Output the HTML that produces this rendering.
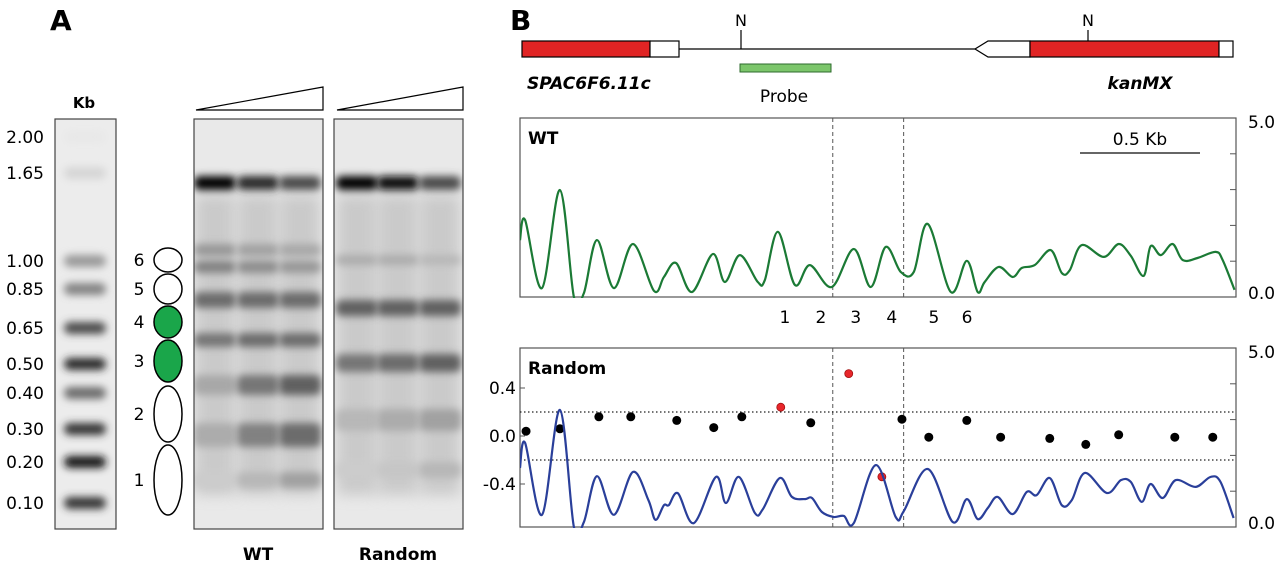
<!DOCTYPE html>
<html><head><meta charset="utf-8"><style>
html,body{margin:0;padding:0;background:#fff;}
svg{display:block;font-family:"DejaVu Sans","Liberation Sans",sans-serif;}
</style></head><body>
<svg id="fig" width="1280" height="562" viewBox="0 0 1280 562">
<defs>
<filter id="blur" x="-30%" y="-100%" width="160%" height="300%"><feGaussianBlur stdDeviation="4"/></filter>
<filter id="blur2" x="-30%" y="-20%" width="160%" height="140%"><feGaussianBlur stdDeviation="7"/></filter>
<clipPath id="clipWT"><rect x="520" y="118" width="716" height="180"/></clipPath>
<clipPath id="clipRnd"><rect x="520" y="348" width="716" height="180"/></clipPath>
<clipPath id="clipGelWT"><rect x="194" y="119" width="129" height="410"/></clipPath>
<clipPath id="clipGelRnd"><rect x="334" y="119" width="129" height="410"/></clipPath>
<clipPath id="clipLad"><rect x="55" y="119" width="61" height="410"/></clipPath>
</defs>
<!-- Panel A -->
<text x="50" y="30" font-size="28" font-weight="bold">A</text>
<text x="84" y="108" font-size="15" font-weight="bold" text-anchor="middle">Kb</text>
<g id="ladder" clip-path="url(#clipLad)"></g>
<rect x="55" y="119" width="61" height="410" fill="none" stroke="#444" stroke-width="1.2"/>
<g id="ladderLabels" font-size="17" text-anchor="end"></g>
<g id="ellipses"></g>
<g id="gels"></g>
<polygon points="196,110 323,87 323,110" fill="#fff" stroke="#000" stroke-width="1.2"/>
<polygon points="337,110 463,87 463,110" fill="#fff" stroke="#000" stroke-width="1.2"/>
<text x="258" y="560" font-size="17" font-weight="bold" text-anchor="middle">WT</text>
<text x="398" y="560" font-size="17" font-weight="bold" text-anchor="middle">Random</text>

<!-- Panel B -->
<text x="510" y="30" font-size="28" font-weight="bold">B</text>
<g>
<line x1="679" y1="49" x2="975" y2="49" stroke="#000" stroke-width="1.3"/>
<rect x="522" y="41" width="128" height="16" fill="#e02424" stroke="#000" stroke-width="1.2"/>
<rect x="650" y="41" width="29" height="16" fill="#fff" stroke="#000" stroke-width="1.2"/>
<polygon points="988,41 1030,41 1030,57 988,57 975,49" fill="#fff" stroke="#000" stroke-width="1.2"/>
<rect x="1030" y="41" width="189" height="16" fill="#e02424" stroke="#000" stroke-width="1.2"/>
<rect x="1219" y="41" width="14" height="16" fill="#fff" stroke="#000" stroke-width="1.2"/>
<line x1="741" y1="30" x2="741" y2="49" stroke="#000" stroke-width="1.2"/>
<line x1="1088" y1="30" x2="1088" y2="41" stroke="#000" stroke-width="1.2"/>
<text x="741" y="26" font-size="16" text-anchor="middle">N</text>
<text x="1088" y="26" font-size="16" text-anchor="middle">N</text>
<rect x="740" y="64" width="91" height="8" fill="#7cc66b" stroke="#2e6b2e" stroke-width="1"/>
<text x="527" y="89" font-size="17" font-weight="bold" font-style="italic">SPAC6F6.11c</text>
<text x="784" y="102" font-size="17" text-anchor="middle">Probe</text>
<text x="1140" y="89" font-size="17" font-weight="bold" font-style="italic" text-anchor="middle">kanMX</text>
</g>
<g id="wtPlot"></g>
<g id="rndPlot"></g>
</svg>
<script>
// ---------- Data ----------
const ladderSizes = ["2.00","1.65","1.00","0.85","0.65","0.50","0.40","0.30","0.20","0.10"];
const ladderY = [137,173,261,289,328,364,393,429,462,503];
const ladderIntensity = [0.0,0.08,0.35,0.45,0.7,0.85,0.55,0.8,0.95,0.8];

const wtPos = [0,21,91,165,223,264,318,388,467,554,595,645,711,797,847,909,983,1012,1066,1136,1198,1289,1380,1450,1512,1574,1628,1686,1781,1847,1892,1921,1979,2037,2074,2128,2194,2240,2273,2322,2413,2475,2525,2578,2607,2649,2698,2740,2801,2876,2905,2954];
const wtSignal = [1.59,2.15,0.25,2.99,0,0.11,1.59,0.25,1.48,0.17,0.56,0.95,0.14,1.20,0.42,1.17,0.42,0.47,1.82,0.34,0.89,0.28,1.34,0.28,1.40,0.70,0.70,2.04,0.14,1.01,0.14,0.42,0.84,0.56,0.81,0.89,1.31,0.67,0.75,1.45,1.12,1.48,1.15,0.59,1.42,1.17,1.48,1.03,1.09,1.26,1.03,0.2];

const rndPos = [0,21,91,165,223,264,318,388,467,531,560,595,615,653,719,810,851,905,971,1004,1074,1124,1178,1207,1248,1297,1339,1380,1471,1553,1587,1686,1789,1847,1892,1934,1975,2037,2095,2136,2190,2240,2281,2335,2426,2484,2525,2570,2607,2657,2711,2793,2855,2896,2950];
const rndSignal = [1.65,2.35,0.34,3.27,0,0.14,1.42,0.34,1.54,0.75,0.20,0.61,0.61,0.94,0.11,1.40,0.67,1.40,0.39,0.50,1.37,0.84,0.78,0.81,0.42,0.28,0.31,0.11,1.73,0.28,0.45,1.62,0.14,0.78,0.22,0.53,0.84,0.36,0.98,0.89,1.37,0.61,0.75,1.51,0.95,1.31,1.26,0.70,1.20,0.81,1.31,1.12,1.40,1.26,0.25];

const dotPos = [25,165,326,458,648,801,917,1078,1202,1359,1496,1579,1690,1847,1987,2190,2339,2475,2707,2864];
const dotValue = [0.04,0.06,0.16,0.16,0.13,0.07,0.16,0.24,0.11,0.52,-0.34,0.14,-0.01,0.13,-0.01,-0.02,-0.07,0.01,-0.01,-0.01];

const nucLabels = ["1","2","3","4","5","6"];
const nucLabelPos = [1095,1244,1388,1537,1711,1848];
const dashPos = [1293,1586];
const leftTicks = [0.4,0.0,-0.4];
const leftTickLabels = ["0.4","0.0","-0.4"];

// ---------- helpers ----------
const NS="http://www.w3.org/2000/svg";
function mk(tag, attrs, parent){const e=document.createElementNS(NS,tag);for(const k in attrs)e.setAttribute(k,attrs[k]);parent.appendChild(e);return e;}
function smooth(pts){
  let d=`M${pts[0][0]},${pts[0][1]}`;
  for(let i=0;i<pts.length-1;i++){
    const p0=pts[Math.max(0,i-1)],p1=pts[i],p2=pts[i+1],p3=pts[Math.min(pts.length-1,i+2)];
    const c1=[p1[0]+(p2[0]-p0[0])/6,p1[1]+(p2[1]-p0[1])/6];
    const c2=[p2[0]-(p3[0]-p1[0])/6,p2[1]-(p3[1]-p1[1])/6];
    d+=` C${c1[0].toFixed(1)},${c1[1].toFixed(1)} ${c2[0].toFixed(1)},${c2[1].toFixed(1)} ${p2[0].toFixed(1)},${p2[1].toFixed(1)}`;
  }
  return d;
}
const X0=520, X1=1236, BPMAX=2960;
const xs = bp => X0 + bp/BPMAX*(X1-X0);

// ---------- ladder ----------
const lad=document.getElementById('ladder');
const ladBox=mk('rect',{x:55,y:119,width:61,height:410,fill:'#ececec'},lad);


const ll=document.getElementById('ladderLabels');
ladderSizes.forEach((s,i)=>{
  const g=Math.round(232-ladderIntensity[i]*225);
  const b=mk('rect',{x:64,y:ladderY[i]-6,width:42,height:12,rx:6,fill:`rgb(${g},${g},${g})`,filter:'url(#blur)'},lad);
  
  
  const t=mk('text',{x:44,y:ladderY[i]+6},ll);t.textContent=s;
  
  
});

// ---------- ellipses ----------
const el=document.getElementById('ellipses');
const ellY=[480,414,361,322,289,260], ellR=[35,28,21,16,15,12], ellFill=['#fff','#fff','#1aa64a','#1aa64a','#fff','#fff'];
nucLabels.forEach((n,i)=>{
  const e=mk('ellipse',{cx:168,cy:ellY[i],rx:14,ry:ellR[i],fill:ellFill[i],stroke:'#000','stroke-width':1.5},el);
  
  
  const t=mk('text',{x:139,y:ellY[i]+6,'font-size':17,'text-anchor':'middle'},el);t.textContent=n;
  
  
});

// ---------- gels ----------
const gels=document.getElementById('gels');
function gel(x0,lanes,bands,name,clip){
  const grp=mk('g',{'clip-path':clip},gels);
  const r=mk('rect',{x:x0,y:119,width:129,height:410,fill:'#e9e9e9'},grp);
  
  
  lanes.forEach(lx=>{mk('rect',{x:lx-20,y:195,width:40,height:300,fill:'#bdbdbd',opacity:0.7,filter:'url(#blur2)'},grp);});
  bands.forEach(b=>{
    lanes.forEach((lx,j)=>{
      const a=b[2][j]; const g=Math.round(215-a*215);
      const e=mk('rect',{x:lx-21,y:b[0]-b[1]/2,width:42,height:b[1],rx:6,fill:`rgb(${g},${g},${g})`,filter:'url(#blur)'},grp);
      
      
    });
  });
  mk('rect',{x:x0,y:119,width:129,height:410,fill:'none',stroke:'#444','stroke-width':1.2},gels);
}
gel(194,[215,258,300],[[183,14,[1,0.8,0.65]],[250,12,[0.3,0.25,0.22]],[267,12,[0.4,0.35,0.3]],[300,16,[0.5,0.5,0.5]],[340,14,[0.45,0.5,0.5]],[385,20,[0.22,0.45,0.55]],[435,24,[0.2,0.4,0.5]],[480,16,[0.05,0.15,0.25]]],'wt','url(#clipGelWT)');
gel(334,[357,398,440],[[183,14,[1,0.95,0.65]],[260,10,[0.2,0.2,0.15]],[308,16,[0.55,0.55,0.55]],[363,18,[0.45,0.5,0.55]],[420,22,[0.15,0.2,0.25]],[470,16,[0.05,0.08,0.15]]],'random','url(#clipGelRnd)');

// ---------- profile plots ----------
function plot(gid,top,bot,pos,sig,color,title,clip,extra){
  const g=document.getElementById(gid);
  const ys=v=>bot - v/5*(bot-top);
  const box=mk('rect',{x:X0,y:top,width:X1-X0,height:bot-top,fill:'none',stroke:'#555','stroke-width':1.2},g);
  
  
  dashPos.forEach(p=>{
    const l=mk('line',{x1:xs(p),x2:xs(p),y1:top,y2:bot,stroke:'#555','stroke-width':1,'stroke-dasharray':'4,3'},g);
    
    
  });
  for(let v=1;v<5;v++) mk('line',{x1:X1-6,x2:X1,y1:ys(v),y2:ys(v),stroke:'#555'},g);
  const t5=mk('text',{x:X1+12,y:top+10,'font-size':17},g);t5.textContent='5.0';
  
  
  const t0=mk('text',{x:X1+12,y:bot+2,'font-size':17},g);t0.textContent='0.0';
  
  
  if(extra) extra(g,top,bot);
  const pts=pos.map((p,i)=>[xs(p),ys(sig[i])]);
  const path=mk('path',{d:smooth(pts),fill:'none',stroke:color,'stroke-width':2.2,'clip-path':clip},g);
  
  
  const tt=mk('text',{x:X0+8,y:top+26,'font-size':17,'font-weight':'bold'},g);tt.textContent=title;
  
  
  return ys;
}
plot('wtPlot',118,297,wtPos,wtSignal,'#1b7a35','WT','url(#clipWT)',(g,top,bot)=>{
  mk('line',{x1:1080,x2:1200,y1:153,y2:153,stroke:'#333','stroke-width':1.5},g);
  const s=mk('text',{x:1140,y:145,'font-size':17,'text-anchor':'middle'},g);s.textContent='0.5 Kb';
  
  
  nucLabels.forEach((n,i)=>{
    const t=mk('text',{x:xs(nucLabelPos[i]),y:323,'font-size':17,'text-anchor':'middle'},g);t.textContent=n;
    
    
  });
});
plot('rndPlot',348,527,rndPos,rndSignal,'#2a3f9a','Random','url(#clipRnd)',(g,top,bot)=>{
  const yl=v=>436 - v*120;
  [0.2,-0.2].forEach(v=>{
    const l=mk('line',{x1:X0,x2:X1,y1:yl(v),y2:yl(v),stroke:'#222','stroke-width':1.2,'stroke-dasharray':'1.5,2.5'},g);
    
    
  });
  leftTicks.forEach((v,i)=>{
    mk('line',{x1:X0,x2:X0+5,y1:yl(v),y2:yl(v),stroke:'#555'},g);
    const t=mk('text',{x:X0-4,y:yl(v)+6,'font-size':17,'text-anchor':'end'},g);t.textContent=leftTickLabels[i];
    
    
  });
  dotPos.forEach((p,i)=>{
    const red=Math.abs(dotValue[i])>0.2;
    const c=mk('circle',{cx:xs(p),cy:yl(dotValue[i]),r:red?4:4.5,fill:red?'#e8262b':'#000',stroke:red?'#a01010':'none','stroke-width':0.8},g);
    
    
  });
});
</script>
</body></html>
